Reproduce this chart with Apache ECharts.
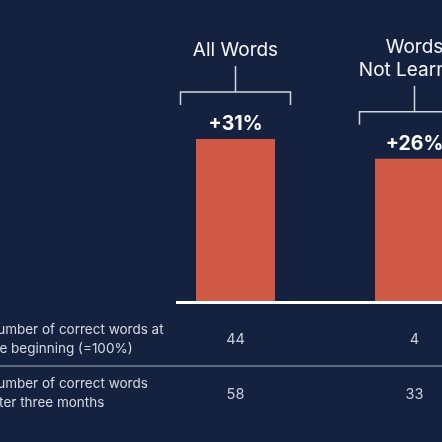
<!DOCTYPE html>
<html>
<head>
<meta charset="utf-8">
<script src="https://cdn.jsdelivr.net/npm/echarts@6/dist/echarts.min.js"></script>
<style>
  html, body { margin: 0; padding: 0; background: #15223f; }
  #main { width: 442px; height: 442px; }
</style>
</head>
<body>
<div id="main"></div>
<script>
// 数据
const groups = ['All Words', 'Words\nNot Learned'];
const relativeScore = [131, 126];          // after three months, start = 100%
const startCounts = [44, 4];
const afterCounts = [58, 33];
const rowLabels = [
	'Number of correct words at\nthe beginning (=100%)',
	'Number of correct words\nafter three months'
];

const BG = '#15223f';
const BAR = '#d05a45';
const FONT = 'Inter, "Noto Sans", sans-serif';

const chart = echarts.init(document.getElementById('main'));

// 表格行的数值用额外的 x 轴显示
function rowAxis(values, offset) {
	return {
		type: 'category',
		data: values.map(String),
		position: 'bottom',
		offset: offset,
		axisLine: { show: false },
		axisTick: { show: false },
		axisLabel: { margin: 0, color: '#c9cdd7', fontSize: 14.5, fontFamily: FONT }
	};
}

chart.setOption({
	backgroundColor: BG,
	animation: false,
	grid: { left: 146, width: 358, top: 64, bottom: 141, outerBoundsMode: 'none', containLabel: false },
	xAxis: [
		{
			type: 'category',
			data: groups,
			axisLine: { show: false },
			axisTick: { show: false },
			axisLabel: { show: false }
		},
		rowAxis(startCounts, 31),
		rowAxis(afterCounts, 86)
	],
	yAxis: { type: 'value', min: 90, max: 150, show: false },
	series: [{
		type: 'bar',
		data: relativeScore,
		barWidth: 79,
		itemStyle: { color: BAR },
		label: {
			show: true,
			position: 'top',
			distance: 5,
			color: '#ffffff',
			fontSize: 19.5,
			fontWeight: 'bold',
			fontFamily: FONT,
			formatter: p => '+' + (p.value - 100) + '%'
		}
	}]
});

// 括号、组标题、基线和表格分隔线
function buildGraphic() {
	const els = [];
	const base = chart.convertToPixel({ yAxisIndex: 0 }, 90);
	els.push({
		type: 'line',
		shape: { x1: 176, y1: base + 1.5, x2: 442, y2: base + 1.5 },
		style: { stroke: '#ffffff', lineWidth: 3 }
	});
	relativeScore.forEach((v, i) => {
		const [cx, top] = chart.convertToPixel({ seriesIndex: 0 }, [i, v]);
		const by = top - 47;
		const half = 55;
		const stemTop = by - 26;
		els.push({
			type: 'polyline',
			shape: { points: [[cx - half, by + 13], [cx - half, by], [cx + half, by], [cx + half, by + 13]] },
			style: { stroke: '#d3d8e0', lineWidth: 1.5, fill: null }
		});
		els.push({
			type: 'line',
			shape: { x1: cx, y1: stemTop, x2: cx, y2: by },
			style: { stroke: '#d3d8e0', lineWidth: 1.5 }
		});
		els.push({
			type: 'text',
			x: cx, y: stemTop - 4,
			style: {
				text: groups[i], fill: '#f2f3f6', fontSize: 19, fontFamily: FONT,
				lineHeight: 23, align: 'center', verticalAlign: 'bottom'
			}
		});
	});
	const rowY = [339, 393];
	rowLabels.forEach((t, i) => {
		els.push({
			type: 'text',
			x: -13, y: rowY[i],
			style: {
				text: t, fill: '#d6d9e0', fontSize: 13.5, fontFamily: FONT,
				lineHeight: 19, align: 'left', verticalAlign: 'middle'
			}
		});
	});
	els.push({
		type: 'line',
		shape: { x1: 0, y1: 366, x2: 442, y2: 366 },
		style: { stroke: '#78829a', lineWidth: 1.5 }
	});
	return els;
}

chart.setOption({ graphic: buildGraphic() });
</script>
</body>
</html>
